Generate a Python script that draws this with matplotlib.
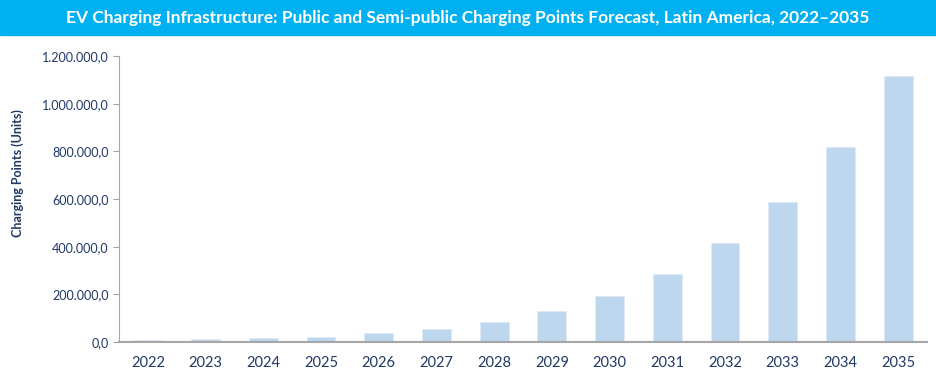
import matplotlib
matplotlib.use("Agg")
import matplotlib.pyplot as plt
from matplotlib.ticker import FuncFormatter, MultipleLocator

# values
years = ["2022", "2023", "2024", "2025", "2026", "2027", "2028",
         "2029", "2030", "2031", "2032", "2033", "2034", "2035"]
points = [7000, 11000, 15500, 22000, 36000, 54500, 84000,
          128000, 193000, 285000, 414000, 586000, 817000, 1116000]

TITLE = ("EV Charging Infrastructure: Public and Semi-public Charging "
         "Points Forecast, Latin America, 2022\u20132035")
NAVY = "#1F3864"


def euro_fmt(v, _pos):
    s = f"{v:,.1f}"
    return s.replace(",", "X").replace(".", ",").replace("X", ".")


def main():
    plt.rcParams["font.family"] = ["Lato", "DejaVu Sans"]
    fig = plt.figure(figsize=(9.36, 3.8), dpi=100)

    # title banner
    fig.patches.append(plt.Rectangle((0, 1 - 35 / 380), 1, 35 / 380,
                                     transform=fig.transFigure,
                                     color="#00B0F0", zorder=0))
    fig.text(0.5, 1 - 18 / 380, TITLE, ha="center", va="center",
             color="white", fontsize=12.5, fontweight="bold")

    ax = fig.add_axes([119 / 936, 1 - 342 / 380, 808 / 936, 286 / 380])
    ax.bar(range(len(years)), points, width=0.5, color="#BDD7EE",
           edgecolor="#DEEBF7", linewidth=0.6)

    ax.set_xlim(-0.5, len(years) - 0.5)
    ax.set_ylim(0, 1200000)
    ax.yaxis.set_major_locator(MultipleLocator(200000))
    ax.yaxis.set_major_formatter(FuncFormatter(euro_fmt))
    ax.set_xticks(range(len(years)))
    ax.set_xticklabels(years)

    for side in ["top", "right"]:
        ax.spines[side].set_visible(False)
    ax.spines["left"].set_color("#A6A6A6")
    ax.spines["bottom"].set_color("#A6A6A6")
    ax.spines["bottom"].set_linewidth(1.5)
    ax.tick_params(axis="y", colors="#A6A6A6", labelcolor=NAVY,
                   labelsize=9, length=4)
    ax.tick_params(axis="x", length=0, labelcolor=NAVY, labelsize=10.5,
                   pad=10)

    fig.text(18 / 936, 1 - 173 / 380, "Charging Points (Units)",
             rotation=90, ha="center", va="center", color=NAVY,
             fontsize=9, fontweight="bold")

    fig.savefig("out.png", dpi=100)


if __name__ == "__main__":
    main()
